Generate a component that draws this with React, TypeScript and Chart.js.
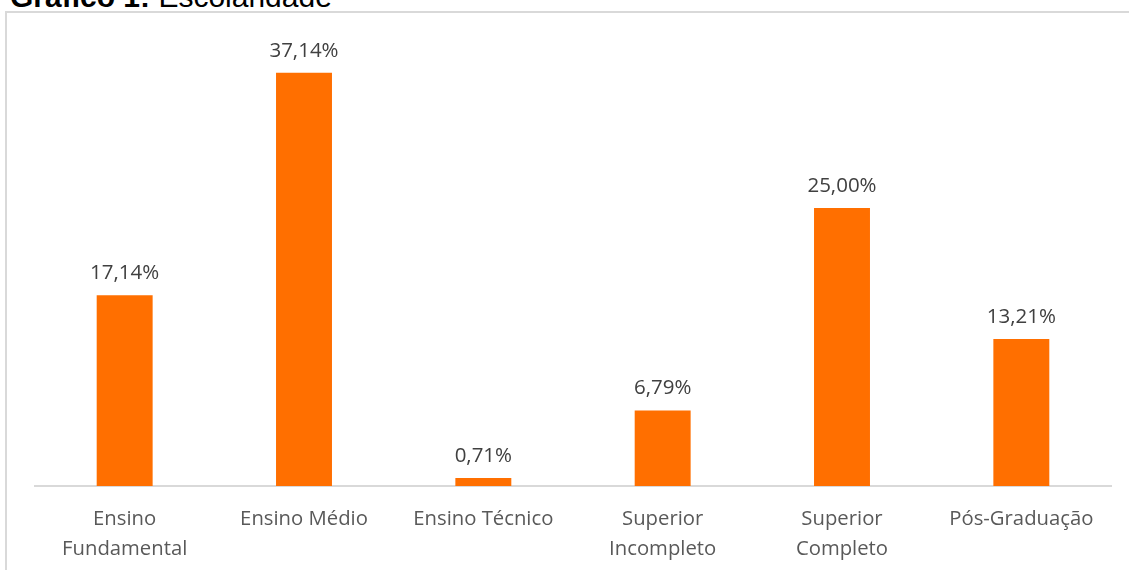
import React, { useEffect, useRef } from "react";
import { Chart, registerables } from "chart.js";

Chart.register(...registerables);

const categories: string[][] = [
  ["Ensino", "Fundamental"],
  ["Ensino Médio"],
  ["Ensino Técnico"],
  ["Superior", "Incompleto"],
  ["Superior", "Completo"],
  ["Pós-Graduação"],
];
const values: number[] = [17.14, 37.14, 0.71, 6.79, 25.0, 13.21];
const valueLabels: string[] = ["17,14%", "37,14%", "0,71%", "6,79%", "25,00%", "13,21%"];

const FONT = "'Open Sans', Lato, sans-serif";

const labelPlugin = {
  id: "barValueLabels",
  afterDatasetsDraw(chart: any) {
    const ctx = chart.ctx;
    const meta = chart.getDatasetMeta(0);
    ctx.save();
    ctx.fillStyle = "#404040";
    ctx.font = `20.5px ${FONT}`;
    ctx.textAlign = "center";
    ctx.textBaseline = "alphabetic";
    meta.data.forEach((bar: any, i: number) => {
      ctx.fillText(valueLabels[i], bar.x, bar.y - 16);
    });
    ctx.restore();
  },
};

export default function App() {
  const ref = useRef<HTMLCanvasElement>(null);
  useEffect(() => {
    document.body.style.margin = "0";
    const chart = new Chart(ref.current!, {
      type: "bar",
      data: {
        labels: categories,
        datasets: [
          {
            data: values,
            backgroundColor: "#ff6f00",
            barPercentage: 0.312,
            categoryPercentage: 1,
          },
        ],
      },
      options: {
        animation: false,
        responsive: false,
        maintainAspectRatio: false,
        layout: { padding: { left: 35, right: 18, top: 41, bottom: 0 } },
        plugins: { legend: { display: false }, tooltip: { enabled: false }, title: { display: false } },
        scales: {
          x: {
            grid: { display: false, drawTicks: false },
            border: { display: true, color: "#d9d9d9", width: 2 },
            ticks: {
              color: "#595959",
              font: { family: FONT, size: 20.3, lineHeight: 1.44 },
              padding: 19,
              maxRotation: 0,
              autoSkip: false,
            },
            afterFit: (scale: any) => {
              scale.height = 84;
            },
          },
          y: { display: false, min: 0, max: 40 },
        },
      },
      plugins: [labelPlugin],
    });
    return () => chart.destroy();
  }, []);

  return (
    <div style={{ position: "absolute", left: 0, top: 0, width: 1129, height: 570, overflow: "hidden", background: "#fff" }}>
      <div
        style={{
          position: "absolute",
          left: 10,
          top: -18,
          fontFamily: "'Liberation Sans', Arial, sans-serif",
          fontSize: 30,
          lineHeight: "29px",
          color: "#000",
          whiteSpace: "nowrap",
        }}
      >
        <b>Gráfico 1:</b> Escolaridade
      </div>
      <div
        style={{
          position: "absolute",
          left: 5,
          top: 11,
          width: 1200,
          height: 700,
          borderLeft: "2px solid #d9d9d9",
          borderTop: "2px solid #d9d9d9",
        }}
      />
      <canvas ref={ref} width={1129} height={570} style={{ position: "absolute", left: 0, top: 0, width: 1129, height: 570 }} />
    </div>
  );
}
